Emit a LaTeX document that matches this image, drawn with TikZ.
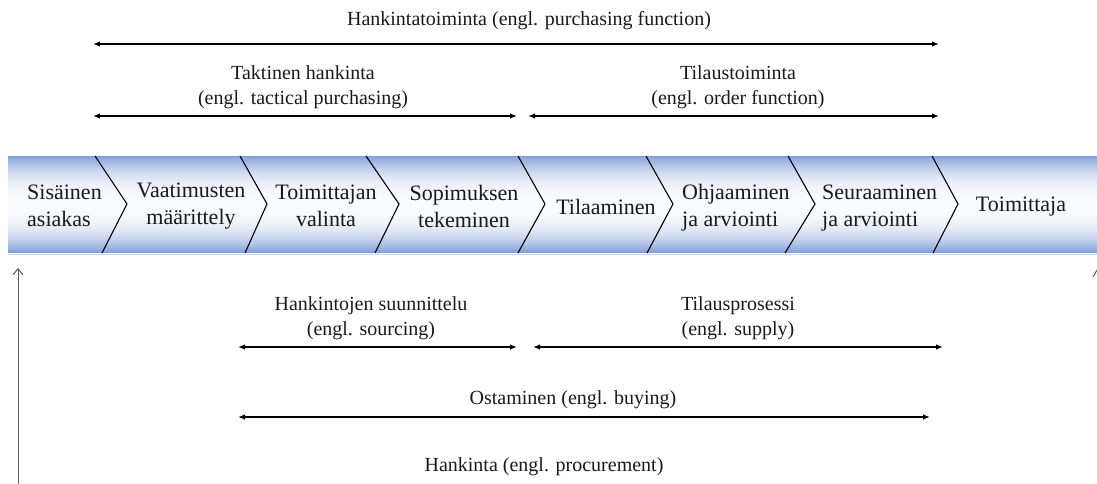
\documentclass[tikz,border=0pt]{standalone}
\usepackage{fontspec}
\setmainfont{Liberation Serif}
\usetikzlibrary{arrows.meta}
\definecolor{bandblue}{RGB}{128,158,216}
\definecolor{bandglow}{RGB}{205,218,242}
\definecolor{txt}{RGB}{25,25,25}
\definecolor{axis}{RGB}{90,90,90}
\begin{document}
\begin{tikzpicture}[x=1pt,y=-1pt,
  steptext/.style={font=\fontsize{22}{27}\selectfont, align=center, inner sep=0pt, text=txt},
  lefttext/.style={steptext, align=left, anchor=west},
  lbl/.style={font=\fontsize{20}{25}\selectfont, align=center, inner sep=0pt, text=txt},
  span/.style={line width=1.3pt, {Latex[length=7pt,width=5.5pt]}-{Latex[length=7pt,width=5.5pt]}},
  chev/.style={line width=1.1pt, black, line join=miter}]
\useasboundingbox (0,0) rectangle (1097,484);

% process band: pale centre fading to blue at the top and bottom edges
\foreach \i in {0,...,96}{
  \pgfmathsetmacro{\tt}{(\i+0.5)/97}
  \pgfmathsetmacro{\ww}{95*(1-abs(2*\tt-1)^2.5)}
  \fill[white!\ww!bandblue] (8,156+\i) rectangle (1097,157.2+\i);
}
\draw[bandblue, line width=0.8pt] (8,156.4) -- (1097,156.4);
\draw[bandglow, line width=1.5pt] (8,254.5) -- (1097,254.5);

% chevron separators
\draw[chev] (95,156) -- (127,204) -- (102,253);
\draw[chev] (240,156) -- (267,204) -- (245,253);
\draw[chev] (366,156) -- (399,204) -- (375,253);
\draw[chev] (518,156) -- (545,204) -- (518,253);
\draw[chev] (646,156) -- (673,204) -- (647,253);
\draw[chev] (788,156) -- (815,204) -- (785,253);
\draw[chev] (932,156) -- (958,204) -- (933,253);

% process steps
\node[lefttext] (s1) at (27,206) {Sisäinen\\asiakas};
\node[steptext] (s2) at (191,206) {Vaatimusten\\määrittely};
\node[steptext] (s3) at (326,206) {Toimittajan\\valinta};
\node[steptext] (s4) at (464,206) {Sopimuksen\\tekeminen};
\node[steptext] (s5) at (606,206.5) {Tilaaminen};
\node[lefttext] (s6) at (682,208) {Ohjaaminen\\ja arviointi};
\node[lefttext] (s7) at (822,208) {Seuraaminen\\ja arviointi};
\node[steptext] (s8) at (1021,206.5) {Toimittaja};

% spans above the band
\node[lbl] (purch) at (529,20.5) {Hankintatoiminta (engl. purchasing function)};
\coordinate (purchL) at (93,44);
\coordinate (purchR) at (939,44);
\draw[span] (purchL) -- (purchR);

\node[lbl] (tact) at (303,87) {Taktinen hankinta\\(engl. tactical purchasing)};
\coordinate (tactL) at (93,116);
\coordinate (tactR) at (517,116);
\draw[span] (tactL) -- (tactR);

\node[lbl] (order) at (738,87) {Tilaustoiminta\\(engl. order function)};
\coordinate (orderL) at (528,116);
\coordinate (orderR) at (939,116);
\draw[span] (orderL) -- (orderR);

% spans below the band
\node[lbl] (sourc) at (371,318) {Hankintojen suunnittelu\\(engl. sourcing)};
\coordinate (sourcL) at (238,347);
\coordinate (sourcR) at (517,347);
\draw[span] (sourcL) -- (sourcR);

\node[lbl] (supply) at (738,318) {Tilausprosessi\\(engl. supply)};
\coordinate (supplyL) at (533,347);
\coordinate (supplyR) at (943,347);
\draw[span] (supplyL) -- (supplyR);

\node[lbl] (buy) at (573,400) {Ostaminen (engl. buying)};
\coordinate (buyL) at (238,417);
\coordinate (buyR) at (930,417);
\draw[span] (buyL) -- (buyR);

\node[lbl] (proc) at (544,467) {Hankinta (engl. procurement)};

% procurement axis
\coordinate (axisB) at (18,484);
\coordinate (axisT) at (18,268);
\draw[axis, line width=1pt, -{Straight Barb[length=6pt,width=10pt]}] (axisB) -- (axisT);
\coordinate (tickA) at (1093,277);
\coordinate (tickB) at (1097,270);
\draw[axis, line width=1pt] (tickA) -- (tickB);
\end{tikzpicture}
\end{document}
